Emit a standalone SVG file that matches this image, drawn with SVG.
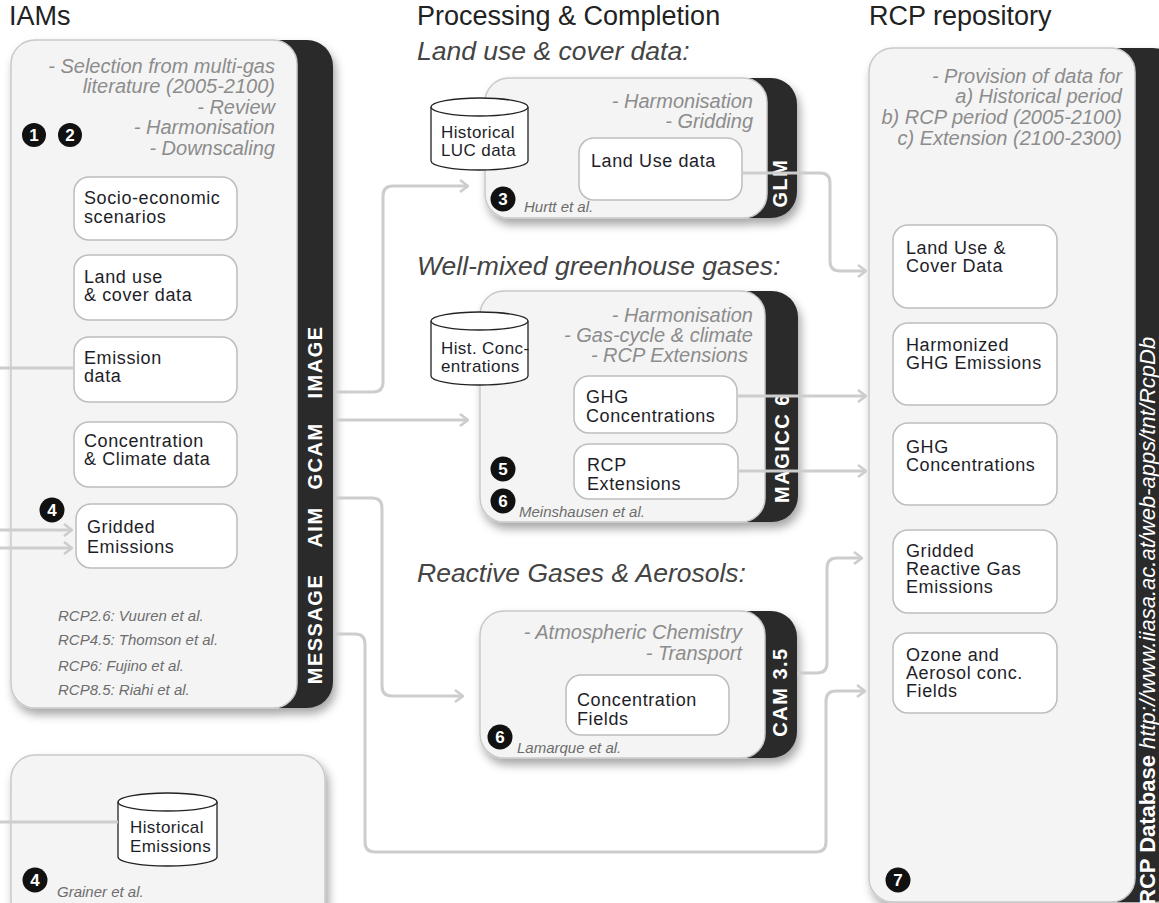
<svg xmlns="http://www.w3.org/2000/svg" width="1159" height="903" viewBox="0 0 1159 903">
<defs>
<filter id="sh" x="-10%" y="-10%" width="130%" height="130%"><feDropShadow dx="3" dy="6" stdDeviation="5" flood-color="#000" flood-opacity="0.35"/></filter>
<marker id="arr" viewBox="0 0 10 14" refX="9" refY="7" markerWidth="10" markerHeight="14" markerUnits="userSpaceOnUse" orient="auto"><path d="M1,1 L9,7 L1,13" fill="none" stroke="#cdcdcd" stroke-width="2.6"/></marker>
<style>
.panel{fill:#f4f4f4;stroke:#c9c9c9;stroke-width:1.5}
.band{fill:#2b2b2b}
.box{fill:#fff;stroke:#bdbdbd;stroke-width:1.5}
.cyl{fill:#fff;stroke:#222;stroke-width:1.3}
text{font-family:"Liberation Sans",Arial,sans-serif}
.lbl{font-size:18px;letter-spacing:0.6px;fill:#1e1e28}
.clbl{font-size:17px;letter-spacing:0.4px;fill:#1e1e28}
.note{font-size:20px;font-style:italic;fill:#8c8c8c;text-anchor:end}
.auth{font-size:15px;font-style:italic;fill:#6d6d6d}
.title{font-size:27px;fill:#222}
.sub{font-size:26.5px;font-style:italic;fill:#444}
.bt{font-size:20px;font-weight:bold;fill:#fff;letter-spacing:1.5px;text-anchor:middle}
.nc{fill:#111}
.nt{font-size:17px;font-weight:bold;fill:#fff;text-anchor:middle}
.conn{fill:none;stroke:#cdcdcd;stroke-width:3}
</style>
</defs>
<rect width="1159" height="903" fill="#fff"/>

<text class="title" x="9" y="25">IAMs</text>
<text class="title" x="417" y="25">Processing &amp; Completion</text>
<text class="title" x="869" y="25">RCP repository</text>
<text class="sub" x="417" y="60">Land use &amp; cover data:</text>
<text class="sub" x="417" y="275">Well-mixed greenhouse gases:</text>
<text class="sub" x="417" y="582">Reactive Gases &amp; Aerosols:</text>

<g id="iams">
<g filter="url(#sh)">
<rect class="band" x="11" y="40" width="322" height="668" rx="26"/>
<rect class="panel" x="11" y="40" width="286" height="668" rx="24"/>
</g>
<text class="note" x="275" y="73">- Selection from multi-gas</text>
<text class="note" x="275" y="93">literature (2005-2100)</text>
<text class="note" x="275" y="114">- Review</text>
<text class="note" x="275" y="134">- Harmonisation</text>
<text class="note" x="275" y="155">- Downscaling</text>
<circle class="nc" cx="34" cy="135" r="12"/><text class="nt" x="34" y="141">1</text>
<circle class="nc" cx="70" cy="135" r="12"/><text class="nt" x="70" y="141">2</text>
<text class="bt" transform="translate(322,362) rotate(-90)">IMAGE</text>
<text class="bt" transform="translate(322,456) rotate(-90)">GCAM</text>
<text class="bt" transform="translate(322,527) rotate(-90)">AIM</text>
<text class="bt" transform="translate(322,629) rotate(-90)">MESSAGE</text>
<text class="auth" x="58" y="621">RCP2.6: Vuuren et al.</text>
<text class="auth" x="58" y="645">RCP4.5: Thomson et al.</text>
<text class="auth" x="58" y="671">RCP6: Fujino et al.</text>
<text class="auth" x="58" y="695">RCP8.5: Riahi et al.</text>
</g>

<g id="socio"><rect class="box" x="74" y="177" width="163" height="63" rx="15"/><text class="lbl" x="84" y="204">Socio-economic</text><text class="lbl" x="84" y="223">scenarios</text></g>
<g id="landuse-iam"><rect class="box" x="74" y="255" width="163" height="65" rx="15"/><text class="lbl" x="84" y="283">Land use</text><text class="lbl" x="84" y="301">&amp; cover data</text></g>
<g id="emission"><rect class="box" x="74" y="337" width="163" height="65" rx="15"/><text class="lbl" x="84" y="364">Emission</text><text class="lbl" x="84" y="382">data</text></g>
<g id="conc-climate"><rect class="box" x="74" y="422" width="163" height="65" rx="15"/><text class="lbl" x="84" y="447">Concentration</text><text class="lbl" x="84" y="465">&amp; Climate data</text></g>
<g id="gridded"><rect class="box" x="76" y="504" width="161" height="64" rx="15"/><text class="lbl" x="87" y="533">Gridded</text><text class="lbl" x="87" y="553">Emissions</text>
<circle class="nc" cx="52" cy="510" r="12.5"/><text class="nt" x="52" y="516">4</text></g>

<g id="hist-emis-panel">
<rect class="panel" x="11" y="755" width="314" height="170" rx="24" filter="url(#sh)"/>
<circle class="nc" cx="35" cy="880" r="12.5"/><text class="nt" x="35" y="886">4</text>
<text class="auth" x="57" y="897">Grainer et al.</text>
</g>
<g id="hist-emissions">
<path class="cyl" d="M118,802 V857 A49.5,9 0 0 0 217,857 V802"/>
<ellipse class="cyl" cx="167.5" cy="802" rx="49.5" ry="9"/>
<text class="clbl" x="130" y="833">Historical</text><text class="clbl" x="130" y="852">Emissions</text>
</g>

<g id="glm">
<g filter="url(#sh)">
<rect class="band" x="485" y="78" width="312" height="140" rx="26"/>
<rect class="panel" x="485" y="78" width="282" height="140" rx="24"/>
</g>
<text class="note" x="753" y="108">- Harmonisation</text>
<text class="note" x="753" y="128">- Gridding</text>
<text class="bt" transform="translate(787,183) rotate(-90)">GLM</text>
<circle class="nc" cx="503" cy="199" r="12.5"/><text class="nt" x="503" y="205">3</text>
<text class="auth" x="524" y="212">Hurtt et al.</text>
</g>
<g id="hist-luc">
<path class="cyl" d="M431,107 V161 A48.5,9 0 0 0 528,161 V107"/>
<ellipse class="cyl" cx="479.5" cy="107" rx="48.5" ry="9"/>
<text class="clbl" x="441" y="138">Historical</text><text class="clbl" x="441" y="156">LUC data</text>
</g>
<g id="landuse-data"><rect class="box" x="579" y="138" width="163" height="62" rx="15"/><text class="lbl" x="591" y="167">Land Use data</text></g>

<g id="magicc">
<g filter="url(#sh)">
<rect class="band" x="480" y="291" width="318" height="231" rx="26"/>
<rect class="panel" x="480" y="291" width="285" height="231" rx="24"/>
</g>
<text class="note" x="753" y="322">- Harmonisation</text>
<text class="note" x="753" y="342">- Gas-cycle &amp; climate</text>
<text class="note" x="748" y="362">- RCP Extensions</text>
<text class="bt" transform="translate(789,448) rotate(-90)">MAGICC 6</text>
<circle class="nc" cx="503" cy="469" r="12.5"/><text class="nt" x="503" y="475">5</text>
<circle class="nc" cx="503" cy="501" r="12.5"/><text class="nt" x="503" y="507">6</text>
<text class="auth" x="519" y="517">Meinshausen et al.</text>
</g>
<g id="hist-conc">
<path class="cyl" d="M431,321 V376 A48.5,9 0 0 0 528,376 V321"/>
<ellipse class="cyl" cx="479.5" cy="321" rx="48.5" ry="9"/>
<text class="clbl" x="441" y="354">Hist. Conc-</text><text class="clbl" x="441" y="372">entrations</text>
</g>
<g id="ghg-conc-mid"><rect class="box" x="574" y="376" width="163" height="57" rx="15"/><text class="lbl" x="586" y="403">GHG</text><text class="lbl" x="586" y="422">Concentrations</text></g>
<g id="rcp-ext"><rect class="box" x="574" y="444" width="164" height="55" rx="15"/><text class="lbl" x="587" y="471">RCP</text><text class="lbl" x="587" y="490">Extensions</text></g>

<g id="cam">
<g filter="url(#sh)">
<rect class="band" x="480" y="611" width="317" height="147" rx="26"/>
<rect class="panel" x="480" y="611" width="285" height="147" rx="24"/>
</g>
<text class="note" x="742" y="639">- Atmospheric Chemistry</text>
<text class="note" x="742" y="660">- Transport</text>
<text class="bt" transform="translate(787,692) rotate(-90)">CAM 3.5</text>
<circle class="nc" cx="500" cy="737" r="12.5"/><text class="nt" x="500" y="743">6</text>
<text class="auth" x="517" y="753">Lamarque et al.</text>
</g>
<g id="conc-fields"><rect class="box" x="566" y="675" width="163" height="60" rx="15"/><text class="lbl" x="577" y="706">Concentration</text><text class="lbl" x="577" y="725">Fields</text></g>

<g id="rcp-repo">
<g filter="url(#sh)">
<rect class="band" x="869" y="48" width="310" height="854" rx="26"/>
<rect class="panel" x="869" y="48" width="266" height="854" rx="24"/>
</g>
<text class="note" x="1122" y="83">- Provision of data for</text>
<text class="note" x="1122" y="103">a) Historical period</text>
<text class="note" x="1122" y="124">b) RCP period (2005-2100)</text>
<text class="note" x="1122" y="145">c) Extension (2100-2300)</text>
<text transform="translate(1155,905) rotate(-90)" style="font-size:22px;fill:#fff"><tspan font-weight="bold">RCP Database</tspan><tspan font-style="italic"> http://www.iiasa.ac.at/web-apps/tnt/RcpDb</tspan></text>
<circle class="nc" cx="898" cy="880" r="12.5"/><text class="nt" x="898" y="886">7</text>
</g>
<g id="r-landuse"><rect class="box" x="893" y="225" width="164" height="83" rx="15"/><text class="lbl" x="906" y="254">Land Use &amp;</text><text class="lbl" x="906" y="272">Cover Data</text></g>
<g id="r-ghg-emis"><rect class="box" x="893" y="323" width="164" height="82" rx="15"/><text class="lbl" x="906" y="351">Harmonized</text><text class="lbl" x="906" y="369">GHG Emissions</text></g>
<g id="r-ghg-conc"><rect class="box" x="893" y="423" width="164" height="82" rx="15"/><text class="lbl" x="906" y="453">GHG</text><text class="lbl" x="906" y="471">Concentrations</text></g>
<g id="r-gridded"><rect class="box" x="893" y="530" width="164" height="83" rx="15"/><text class="lbl" x="906" y="557">Gridded</text><text class="lbl" x="906" y="575">Reactive Gas</text><text class="lbl" x="906" y="593">Emissions</text></g>
<g id="r-ozone"><rect class="box" x="893" y="633" width="164" height="80" rx="15"/><text class="lbl" x="906" y="661">Ozone and</text><text class="lbl" x="906" y="679">Aerosol conc.</text><text class="lbl" x="906" y="697">Fields</text></g>

<g id="connectors">
<path class="conn" d="M0,368 H74"/>
<path class="conn" d="M0,530 H72" marker-end="url(#arr)"/>
<path class="conn" d="M0,548 H72" marker-end="url(#arr)"/>
<path class="conn" d="M0,822 H118"/>
<path class="conn" d="M335,392 H373 Q383,392 383,382 V196 Q383,186 393,186 H468" marker-end="url(#arr)"/>
<path class="conn" d="M335,420 H468" marker-end="url(#arr)"/>
<path class="conn" d="M335,498 H372 Q382,498 382,508 V686 Q382,696 392,696 H463" marker-end="url(#arr)"/>
<path class="conn" d="M335,634 H355 Q365,634 365,644 V842 Q365,852 375,852 H816 Q826,852 826,842 V701 Q826,691 836,691 H865" marker-end="url(#arr)"/>
<path class="conn" d="M742,173 H820 Q830,173 830,183 V261 Q830,271 840,271 H866" marker-end="url(#arr)"/>
<path class="conn" d="M737,396 H866" marker-end="url(#arr)"/>
<path class="conn" d="M738,471 H866" marker-end="url(#arr)"/>
<path class="conn" d="M797,673 H817 Q827,673 827,663 V568 Q827,558 837,558 H862" marker-end="url(#arr)"/>
</g>
</svg>
